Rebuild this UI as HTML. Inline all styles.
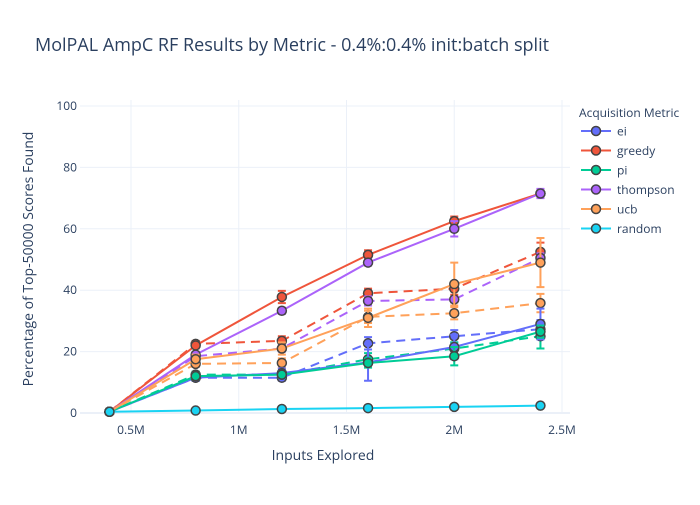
<!DOCTYPE html>
<html><head><meta charset="utf-8"><style>
body{margin:0;background:#fff;}
svg text{font-family:"Open Sans","Liberation Sans",sans-serif;fill:#2a3f5f;}
</style></head><body>
<svg id="chart" width="700" height="500" xmlns="http://www.w3.org/2000/svg">
<rect width="700" height="500" fill="#fff"/>
<text x="35" y="51" font-size="18">MolPAL AmpC RF Results by Metric - 0.4%:0.4% init:batch split</text>
<g id="grid"></g>
<g id="series"></g>
<g id="axes"></g>
<g id="legend"></g>
</svg>
<script>
const xs = [0.4, 0.8, 1.2, 1.6, 2.0, 2.4];
const names = ['ei','greedy','pi','thompson','ucb','random'];
const colors = ['#636efa','#EF553B','#00cc96','#ab63fa','#FFA15A','#19d3f3'];
const eiSolid = [0.4, 11.5, 13, 16.5, 21.5, 29];
const eiDash = [0.4, 11.5, 11.5, 22.7, 25, 27.3];
const greedySolid = [0.4, 22, 37.8, 51.5, 62.5, 71.5];
const greedyDash = [0.4, 22.5, 23.5, 39, 40.5, 52.5];
const piSolid = [0.4, 12, 12.5, 16.3, 18.5, 26.5];
const piDash = [0.4, 12.5, 12.5, 17.5, 21, 25];
const thompsonSolid = [0.4, 19, 33.3, 49, 60, 71.5];
const thompsonDash = [0.4, 18.5, 21, 36.5, 37, 50.5];
const ucbSolid = [0.4, 17.5, 21, 31, 42, 49];
const ucbDash = [0.4, 16, 16.3, 31.3, 32.5, 35.8];
const randomVals = [0.4, 0.8, 1.3, 1.6, 2.0, 2.4];
const eiSolidErr = [0, 1, 1.5, 6, 4, 5];
const eiDashErr = [0, 1, 1, 2, 2, 3];
const greedySolidErr = [0, 1, 2, 1.5, 1.5, 1];
const greedyDashErr = [0, 1, 1.5, 1.5, 2, 3];
const piSolidErr = [0, 1, 1, 1.5, 3, 2];
const piDashErr = [0, 1, 1, 2, 2, 4];
const thompsonSolidErr = [0, 1, 1, 1, 2.5, 1.5];
const thompsonDashErr = [0, 1, 1, 1.5, 1, 1.5];
const ucbSolidErr = [0, 1.5, 2, 3, 7, 8];
const ucbDashErr = [0, 1, 1.5, 2, 2, 3];
const randomErr = [0, 0, 0, 0, 0, 0];
const xTicks = [0.5, 1, 1.5, 2, 2.5];
const xTickLabels = ['0.5M','1M','1.5M','2M','2.5M'];
const yTicks = [0, 20, 40, 60, 80, 100];

const X0 = 80, X1 = 570, Y0 = 413, YTOP = 106;
const xs_ = v => 131 + (v - 0.5) * 215.5;
const ys_ = v => Y0 - v * (Y0 - YTOP) / 100;
const NS = 'http://www.w3.org/2000/svg';
function mk(tag, attrs, parent){const e=document.createElementNS(NS,tag);for(const k in attrs)e.setAttribute(k,attrs[k]);parent.appendChild(e);return e;}
const grid=document.getElementById('grid'), ser=document.getElementById('series'), ax=document.getElementById('axes'), leg=document.getElementById('legend');

xTicks.forEach((t,i)=>{
  const l=mk('line',{x1:xs_(t),x2:xs_(t),y1:YTOP-6,y2:Y0,stroke:'#ebf0f8','stroke-width':1},grid);
  
  
  const tx=mk('text',{x:xs_(t),y:Y0+21,'font-size':12,'text-anchor':'middle'},ax);
  tx.textContent=xTickLabels[i];
  
  
});
yTicks.forEach(t=>{
  const l=mk('line',{x1:X0,x2:X1,y1:ys_(t),y2:ys_(t),stroke:t===0?'#ebf0f8':'#ebf0f8','stroke-width':t===0?2:1},grid);
  
  
  const tx=mk('text',{x:X0-3,y:ys_(t)+4,'font-size':12,'text-anchor':'end'},ax);
  tx.textContent=t;
  
  
});
const xt=mk('text',{x:323,y:460,'font-size':14,'text-anchor':'middle'},ax);
xt.textContent='Inputs Explored';


const yt=mk('text',{x:33,y:259,'font-size':14,'text-anchor':'middle',transform:'rotate(-90 33 259)'},ax);
yt.textContent='Percentage of Top-50000 Scores Found';



const traces=[
 [eiDash,eiDashErr,0,true],[greedyDash,greedyDashErr,1,true],[piDash,piDashErr,2,true],[thompsonDash,thompsonDashErr,3,true],[ucbDash,ucbDashErr,4,true],
 [eiSolid,eiSolidErr,0,false],[greedySolid,greedySolidErr,1,false],[piSolid,piSolidErr,2,false],[thompsonSolid,thompsonSolidErr,3,false],[ucbSolid,ucbSolidErr,4,false],[randomVals,randomErr,5,false]
];
traces.forEach(([vals,errs,ci,dash])=>{
  const g=mk('g',{},ser);
  
  
  const c=colors[ci];
  vals.forEach((v,i)=>{ if(errs[i]>0){
    const x=xs_(xs[i]),a=ys_(v+errs[i]),b=ys_(v-errs[i]);
    const e=mk('path',{d:`M${x},${a}V${b}M${x-4},${a}H${x+4}M${x-4},${b}H${x+4}`,stroke:c,'stroke-width':2,fill:'none'},g);
    
    
  }});
  const p=mk('polyline',{points:vals.map((v,i)=>xs_(xs[i])+','+ys_(v)).join(' '),stroke:c,'stroke-width':2,fill:'none'},g);
  if(dash)p.setAttribute('stroke-dasharray','9,6');
  
  
  vals.forEach((v,i)=>{
    const m=mk('circle',{cx:xs_(xs[i]),cy:ys_(v),r:4.5,fill:c,stroke:'#444','stroke-width':1.5},g);
    
    
  });
});

const lt=mk('text',{x:579,y:117,'font-size':12},leg);
lt.textContent='Acquisition Metric';


names.forEach((n,i)=>{
  const y=131+i*19.5;
  const g=mk('g',{},leg);
  
  
  mk('line',{x1:581,x2:611,y1:y,y2:y,stroke:colors[i],'stroke-width':2},g);
  mk('circle',{cx:596,cy:y,r:4.5,fill:colors[i],stroke:'#444','stroke-width':1.5},g);
  const t=mk('text',{x:617,y:y+4.5,'font-size':12},g);
  t.textContent=n;
});
</script>
</body></html>
